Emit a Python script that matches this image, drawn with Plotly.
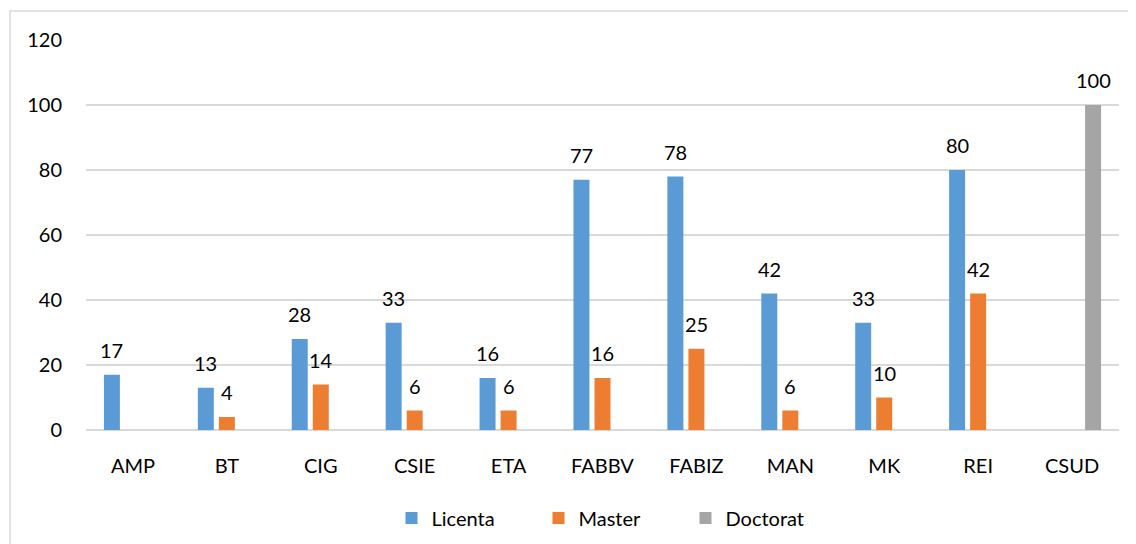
import plotly.graph_objects as go

categories = ["AMP", "BT", "CIG", "CSIE", "ETA", "FABBV", "FABIZ", "MAN", "MK", "REI", "CSUD"]
licenta = [17, 13, 28, 33, 16, 77, 78, 42, 33, 80, None]
master = [None, 4, 14, 6, 6, 16, 25, 6, 10, 42, None]
doctorat = [None, None, None, None, None, None, None, None, None, None, 100]
y_ticks = [0, 20, 40, 60, 80, 100, 120]

series = [
    ("Licenta", licenta, "#5B9BD5", -21),
    ("Master", master, "#ED7D31", 0),
    ("Doctorat", doctorat, "#A5A5A5", 21),
]

FONT = "Lato, Open Sans, sans-serif"
fig = go.Figure()
annotations = []
for name, vals, color, dx in series:
    fig.add_trace(go.Bar(name=name, x=categories, y=vals, marker=dict(color=color, line=dict(width=0))))
    for c, v in zip(categories, vals):
        if v is not None:
            annotations.append(dict(x=c, y=v, text=str(v), showarrow=False, xshift=dx, yshift=25,
                                    font=dict(size=20, color="#000000", family=FONT)))

# page body adds an 8px offset; layout numbers below are in window pixels
OFF = 8
W, H = 1136, 544
PL, PR, PT, PB = 86, 1119, 40, 430   # plot area in window pixels
L, T = PL - OFF, PT - OFF
R = W - (PR - OFF)
B = H - (PB - OFF)
pw, ph = PR - PL, PB - PT

def px(x):
    return (x - PL) / pw

def py(y):
    return (PB - y) / ph

fig.update_layout(
    width=W, height=H,
    margin=dict(l=L, r=R, t=T, b=B),
    paper_bgcolor="white", plot_bgcolor="white",
    barmode="group", bargap=0.328, bargroupgap=0.24,
    font=dict(family=FONT, size=20, color="#000000"),
    showlegend=True,
    legend=dict(orientation="h", x=px(612), xanchor="center", y=py(518), yanchor="middle",
                font=dict(size=20, family=FONT), entrywidth=102, entrywidthmode="pixels",
                traceorder="normal"),
    annotations=annotations,
    shapes=[dict(type="rect", xref="paper", yref="paper", x0=px(10), x1=px(1160), y0=py(580), y1=py(11),
                 line=dict(color="#D9D9D9", width=1.5), fillcolor="rgba(0,0,0,0)", layer="below")],
)
fig.update_xaxes(showgrid=False, showline=False, ticks="", tickfont=dict(size=20), ticklabelstandoff=22,
                 automargin=False)
fig.update_yaxes(range=[0, 120], tickvals=y_ticks, showgrid=True, gridcolor="#D9D9D9", gridwidth=1.5,
                 zeroline=True, zerolinecolor="#D9D9D9", zerolinewidth=1.5, showline=False, ticks="",
                 tickfont=dict(size=20), ticklabelstandoff=23, automargin=False)

fig.write_html("out.html")
